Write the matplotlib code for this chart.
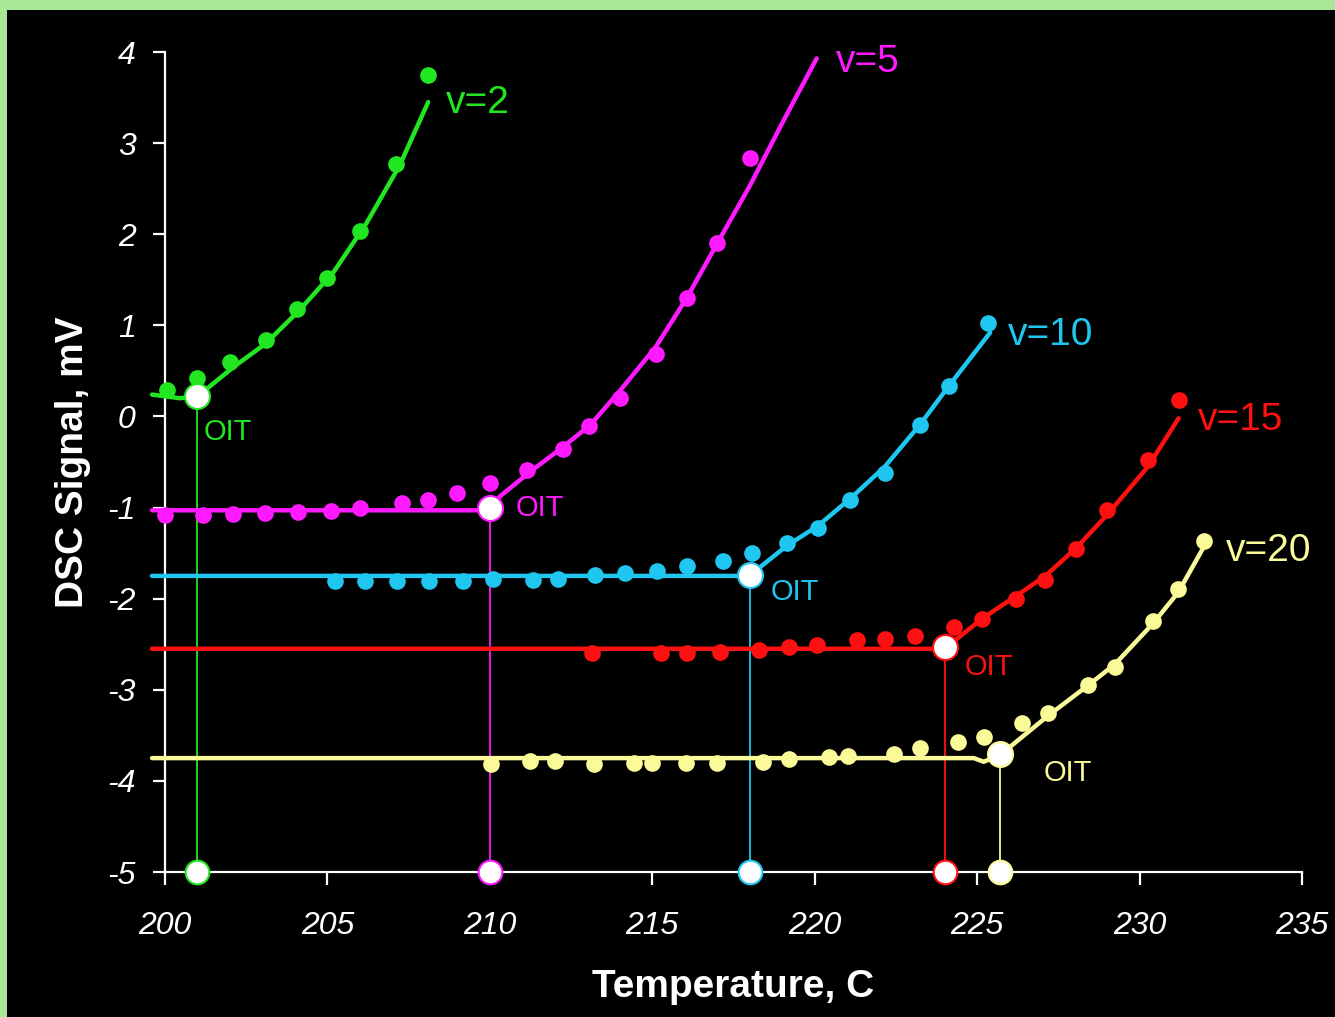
import matplotlib
matplotlib.use("Agg")
import matplotlib.pyplot as plt
from matplotlib.patches import Rectangle

plt.rcParams["font.family"] = ["Liberation Sans", "DejaVu Sans"]
plt.rcParams["axes.unicode_minus"] = False

# Heating rates, colours and the onset points (OIT)
rates = ["v=2", "v=5", "v=10", "v=15", "v=20"]
colors = ["#22e622", "#ff19ff", "#1ec6f0", "#ff1010", "#fafa98"]
oit_temp = [201.0, 210.0, 218.0, 224.0, 225.7]
oit_signal = [0.22, -1.0, -1.74, -2.53, -3.71]

# Measured points
pts_x_v2 = [200.05, 201.0, 202.0, 203.1, 204.05, 205.0, 206.0, 207.1, 208.1]
pts_y_v2 = [0.29, 0.42, 0.60, 0.84, 1.18, 1.52, 2.04, 2.77, 3.75]

pts_x_v5 = [200.0, 201.16, 202.1, 203.07, 204.1, 205.1, 206.0, 207.3, 208.1, 209.0, 210.0,
            211.13, 212.24, 213.05, 214.0, 215.1, 216.06, 217.0, 218.0]
pts_y_v5 = [-1.08, -1.08, -1.07, -1.06, -1.05, -1.04, -1.01, -0.95, -0.92, -0.84, -0.73,
            -0.59, -0.36, -0.11, 0.20, 0.68, 1.30, 1.90, 2.84]

pts_x_v10 = [205.23, 206.16, 207.13, 208.14, 209.18, 210.1, 211.34, 212.1, 213.23, 214.16,
             215.13, 216.06, 217.17, 218.06, 219.14, 220.1, 221.1, 222.16, 223.24, 224.12, 225.34]
pts_y_v10 = [-1.81, -1.81, -1.81, -1.81, -1.81, -1.78, -1.79, -1.78, -1.74, -1.72,
             -1.70, -1.64, -1.59, -1.50, -1.39, -1.22, -0.92, -0.62, -0.09, 0.33, 1.03]

pts_x_v15 = [213.15, 215.26, 216.08, 217.07, 218.3, 219.2, 220.07, 221.3, 222.15, 223.1,
             224.3, 225.15, 226.2, 227.1, 228.03, 229.0, 230.26, 231.2]
pts_y_v15 = [-2.60, -2.60, -2.60, -2.59, -2.56, -2.53, -2.51, -2.45, -2.44, -2.41,
             -2.31, -2.22, -2.00, -1.79, -1.45, -1.03, -0.48, 0.18]

pts_x_v20 = [210.02, 211.24, 212.02, 213.2, 214.45, 214.98, 216.03, 216.98, 218.42, 219.2,
             220.45, 221.03, 222.45, 223.25, 224.42, 225.2, 226.37, 227.19, 228.42, 229.24,
             230.42, 231.19, 231.98]
pts_y_v20 = [-3.81, -3.78, -3.78, -3.82, -3.80, -3.80, -3.80, -3.80, -3.79, -3.76,
             -3.74, -3.73, -3.70, -3.64, -3.57, -3.52, -3.37, -3.26, -2.95, -2.75,
             -2.24, -1.89, -1.37]

# Fitted curves (baseline + rise)
fit_x_v2 = [199.6, 200.46, 201.0, 202.1, 203.1, 204.15, 205.2, 206.2, 207.23, 208.1]
fit_y_v2 = [0.24, 0.20, 0.22, 0.54, 0.80, 1.17, 1.59, 2.12, 2.76, 3.45]

fit_x_v5 = [199.6, 210.0, 210.3, 211.3, 212.2, 213.1, 214.0, 215.1, 216.06, 217.0, 218.0, 219.0, 220.06]
fit_y_v5 = [-1.03, -1.03, -0.88, -0.59, -0.35, -0.09, 0.28, 0.76, 1.30, 1.90, 2.53, 3.22, 3.93]

fit_x_v10 = [199.6, 218.03, 218.4, 219.14, 220.1, 221.1, 222.16, 223.24, 224.12, 225.4]
fit_y_v10 = [-1.75, -1.75, -1.63, -1.42, -1.20, -0.90, -0.55, -0.09, 0.33, 0.92]

fit_x_v15 = [199.6, 224.0, 225.15, 226.2, 227.1, 228.03, 229.0, 230.26, 231.2]
fit_y_v15 = [-2.55, -2.55, -2.22, -1.97, -1.75, -1.45, -1.08, -0.55, -0.02]

fit_x_v20 = [199.6, 224.9, 225.2, 225.7, 226.0, 227.2, 228.42, 229.24, 230.42, 231.19, 231.98]
fit_y_v20 = [-3.75, -3.75, -3.79, -3.72, -3.63, -3.28, -2.95, -2.72, -2.27, -1.93, -1.43]

# Where the rate labels and the OIT labels sit
label_x = [208.65, 220.65, 225.95, 231.8, 232.66]
label_y = [3.44, 3.89, 0.89, -0.04, -1.48]
oit_label_x = [201.2, 210.8, 218.65, 224.6, 227.05]
oit_label_y = [-0.17, -1.0, -1.93, -2.75, -3.91]

points = [(pts_x_v2, pts_y_v2), (pts_x_v5, pts_y_v5), (pts_x_v10, pts_y_v10),
          (pts_x_v15, pts_y_v15), (pts_x_v20, pts_y_v20)]
fits = [(fit_x_v2, fit_y_v2), (fit_x_v5, fit_y_v5), (fit_x_v10, fit_y_v10),
        (fit_x_v15, fit_y_v15), (fit_x_v20, fit_y_v20)]

fig = plt.figure(figsize=(13.35, 10.17), dpi=100)
fig.patch.set_facecolor("#a9e897")
fig.add_artist(Rectangle((7 / 1335, 0), 1, 1 - 10 / 1017, transform=fig.transFigure,
                         facecolor="black", edgecolor="none", zorder=0))

ax = fig.add_axes([165 / 1335, 1 - 872 / 1017, (1302 - 165) / 1335, (872 - 52) / 1017])
ax.set_facecolor("black")
ax.set_xlim(200, 235)
ax.set_ylim(-5, 4)

for i in range(len(rates)):
    c = colors[i]
    fx, fy = fits[i]
    px, py = points[i]
    ax.plot(fx, fy, color=c, lw=3.2, zorder=3, clip_on=False, solid_capstyle="round",
            solid_joinstyle="round")
    ax.plot(px, py, "o", color=c, ms=12, mec="none", zorder=4, clip_on=False)
    ax.plot([oit_temp[i], oit_temp[i]], [-5, oit_signal[i]], color=c, lw=1.3, zorder=2)
    ax.plot(oit_temp[i], oit_signal[i], "o", ms=18, mfc="white", mec=c, mew=1.5, zorder=6)
    ax.plot(oit_temp[i], -5, "o", ms=17, mfc="white", mec=c, mew=1.5, zorder=6, clip_on=False)
    ax.text(label_x[i], label_y[i], rates[i], color=c, fontsize=28, va="center", ha="left")
    ax.text(oit_label_x[i], oit_label_y[i], "OIT", color=c, fontsize=21, va="center", ha="left")

for side in ["top", "right"]:
    ax.spines[side].set_visible(False)
for side in ["left", "bottom"]:
    ax.spines[side].set_color("white")
    ax.spines[side].set_linewidth(1.6)

ax.set_xticks(range(200, 236, 5))
ax.set_yticks(range(-5, 5))
ax.tick_params(axis="both", colors="white", direction="out", length=9, width=1.6, labelsize=23)
ax.tick_params(axis="x", pad=19)
ax.tick_params(axis="y", pad=12)
for lab in ax.get_xticklabels() + ax.get_yticklabels():
    lab.set_fontstyle("italic")

ax.set_xlabel("Temperature, C", color="white", fontsize=28, fontweight="bold", labelpad=20)
ax.set_ylabel("DSC Signal, mV", color="white", fontsize=28, fontweight="bold", labelpad=12)

fig.savefig("out.png", dpi=100, facecolor=fig.get_facecolor())
